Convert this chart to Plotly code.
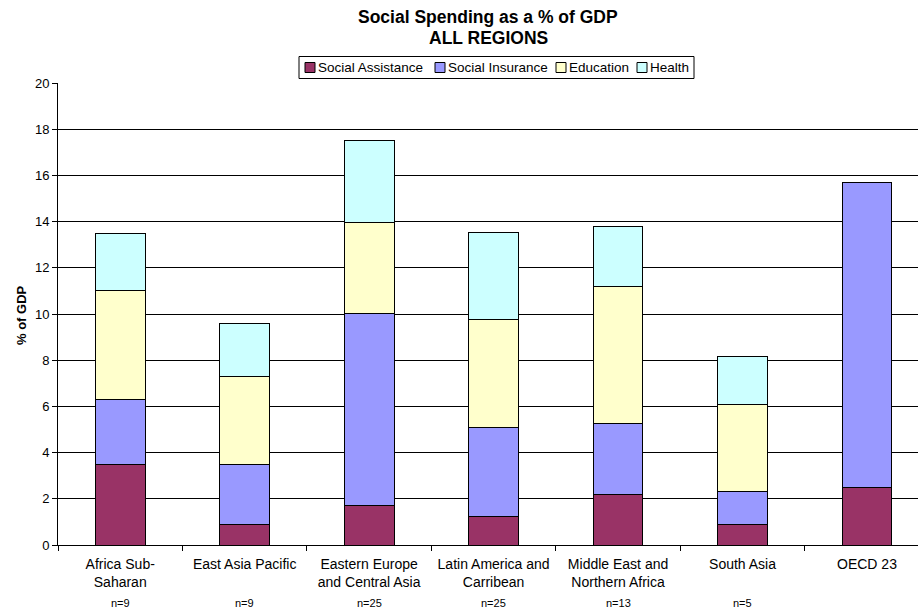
import plotly.graph_objects as go

regions = ['Africa Sub-<br>Saharan', 'East Asia Pacific', 'Eastern Europe<br>and Central Asia',
           'Latin America and<br>Carribean', 'Middle East and<br>Northern Africa', 'South Asia', 'OECD 23']
n_labels = ['n=9', 'n=9', 'n=25', 'n=25', 'n=13', 'n=5', '']

social_assistance = [3.5, 0.9, 1.7, 1.25, 2.2, 0.9, 2.5]
social_insurance = [2.8, 2.6, 8.34, 3.85, 3.04, 1.4, 13.2]
education = [4.7, 3.8, 3.9, 4.68, 5.93, 3.8, 0]
health = [2.5, 2.27, 3.59, 3.77, 2.63, 2.08, 0]

series = [
    ('Social Assistance', social_assistance, '#993366'),
    ('Social Insurance', social_insurance, '#9999FF'),
    ('Education', education, '#FFFFCC'),
    ('Health', health, '#CCFFFF'),
]

W, H = 918, 609
L, R, T, B = 58, 0, 83, 64
pw, ph = W - L - R, H - T - B


# pixel -> paper coords helpers
def px(x):
    return (x - L) / pw


def py(y):
    return (H - B - y) / ph


fig = go.Figure()
for name, vals, col in series:
    fig.add_trace(go.Bar(
        x=regions, y=vals, name=name, width=0.4, showlegend=False,
        marker=dict(color=col, line=dict(color='black', width=1))
    ))

# n= labels under the category names
for reg, lab in zip(regions, n_labels):
    if lab:
        fig.add_annotation(x=reg, y=py(603), xref='x', yref='paper', text=lab,
                           showarrow=False, font=dict(size=11, color='black'),
                           yanchor='middle')

# title, two lines
fig.add_annotation(x=0.5, y=py(17), xref='paper', yref='paper', showarrow=False,
                   text='<b>Social Spending as a % of GDP</b>', yanchor='middle',
                   font=dict(size=17.5, color='black'))
fig.add_annotation(x=0.5, y=py(38), xref='paper', yref='paper', showarrow=False,
                   text='<b>ALL REGIONS</b>', yanchor='middle',
                   font=dict(size=17.5, color='black'))

# y axis title
fig.add_annotation(x=px(21), y=py(315), xref='paper', yref='paper', showarrow=False,
                   text='<b>% of GDP</b>', textangle=-90, xanchor='center', yanchor='middle',
                   font=dict(size=13, color='black'))

# legend box drawn by hand (Excel-style compact legend)
fig.add_shape(type='rect', xref='paper', yref='paper',
              x0=px(299), x1=px(694), y0=py(78.5), y1=py(56.5),
              line=dict(color='black', width=1), fillcolor='white')
leg_x = [305, 435, 556, 637]
for (name, vals, col), lx in zip(series, leg_x):
    fig.add_shape(type='rect', xref='paper', yref='paper',
                  x0=px(lx), x1=px(lx + 10), y0=py(72.5), y1=py(62.5),
                  line=dict(color='black', width=1), fillcolor=col)
    fig.add_annotation(x=px(lx + 11), y=py(67.5), xref='paper', yref='paper',
                       text=name, showarrow=False, xanchor='left', yanchor='middle',
                       font=dict(size=13.5, color='black'))

fig.update_layout(
    barmode='stack',
    width=W, height=H,
    margin=dict(l=L, r=R, t=T, b=B),
    paper_bgcolor='white', plot_bgcolor='white',
    font=dict(family='Liberation Sans, Arial', color='black', size=14),
    showlegend=False,
)
fig.update_xaxes(range=[-0.5, 6.41], showline=True, linecolor='black', linewidth=1,
                 ticks='outside', tickson='boundaries', ticklen=5, tickcolor='black',
                 tickfont=dict(size=14), showgrid=False, automargin=False,
                 ticklabelstandoff=6)
fig.update_yaxes(range=[0, 20], dtick=2, showline=True, linecolor='black', linewidth=1,
                 ticks='outside', ticklen=5, tickcolor='black', showgrid=True,
                 gridcolor='black', gridwidth=1, zeroline=False, automargin=False,
                 tickfont=dict(size=13))

fig.write_html('out.html', config={'displayModeBar': False},
               post_script="document.body.style.margin='0';")
